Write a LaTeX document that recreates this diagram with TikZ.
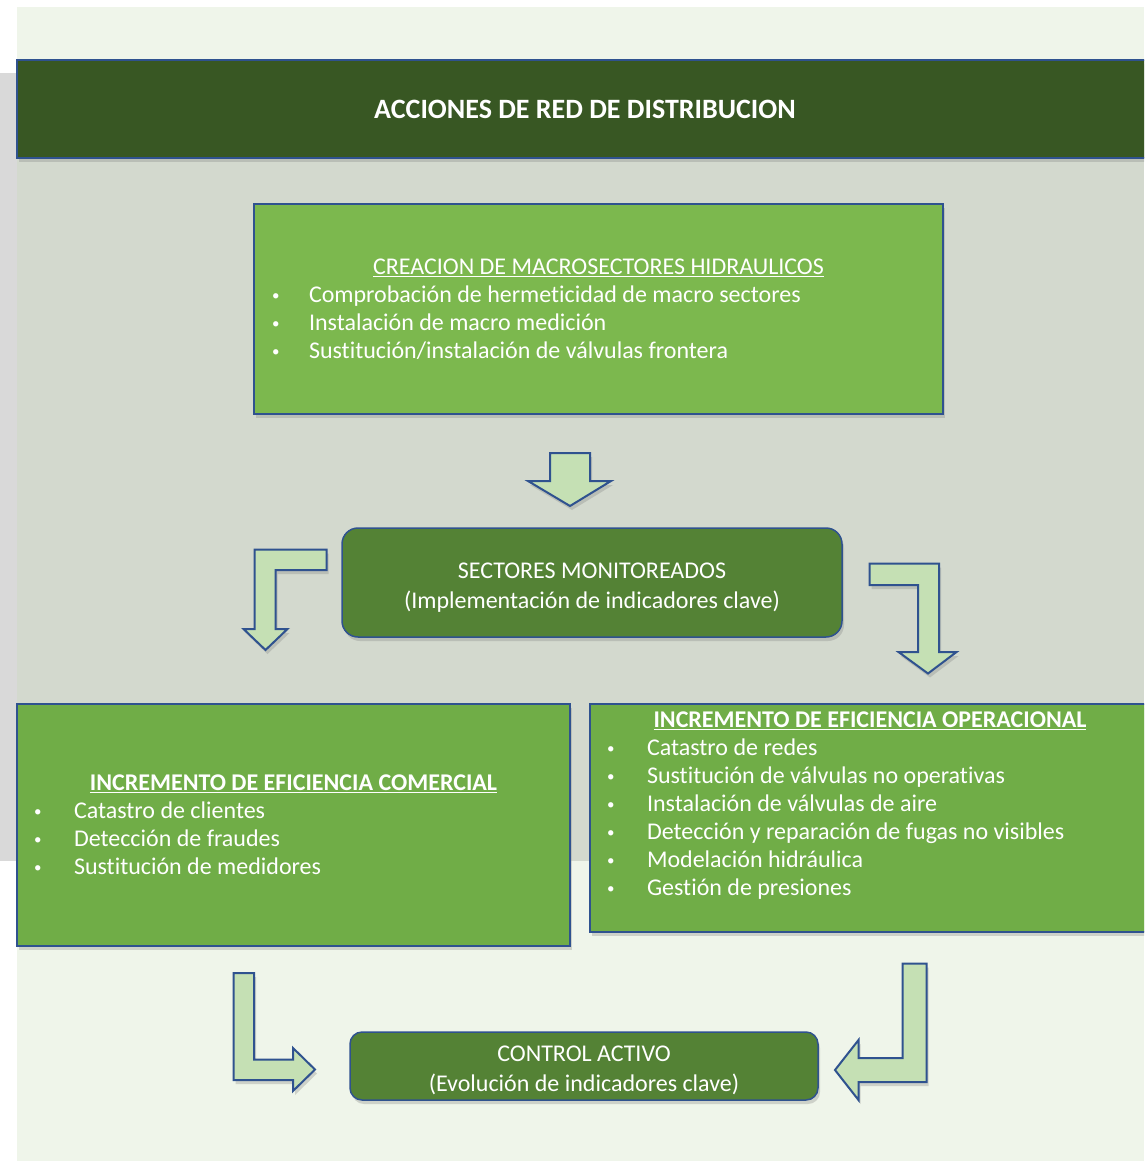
\documentclass[tikz,border=0pt]{standalone}
\usepackage{fontspec}
\setmainfont{Carlito}[Ligatures=NoCommon]
\definecolor{bannergreen}{RGB}{56, 87, 35}
\definecolor{borderblue}{RGB}{47, 82, 143}
\definecolor{boxgreen}{RGB}{112, 173, 71}
\definecolor{lightgreen}{RGB}{124, 184, 78}
\definecolor{deepgreen}{RGB}{84, 130, 53}
\definecolor{arrowgreen}{RGB}{197, 224, 180}
\definecolor{paleback}{RGB}{239, 245, 234}
\definecolor{greyback}{RGB}{217, 217, 217}
\definecolor{sageback}{RGB}{211, 217, 206}
\usetikzlibrary{shapes, arrows.meta, positioning, calc, shadows}

% bullet line of fixed width
\newcommand{\bitem}[3]{\makebox[#1][l]{\makebox[#2][l]{\hspace*{1pt}\raisebox{2pt}{\fontsize{15}{15}\selectfont\textbullet}}#3}}

\begin{document}
\begin{tikzpicture}[x=1pt, y=-1pt,
  softshadow/.style={drop shadow={shadow xshift=2pt, shadow yshift=-4pt, opacity=0.3}},
  greenbox/.style={draw=borderblue, line width=1.5pt, fill=boxgreen, text=white, align=center,
    inner sep=0pt, font=\fontsize{24}{28}\selectfont, softshadow},
  roundbox/.style={greenbox, fill=deepgreen, rounded corners=16pt},
  blockarrow/.style={draw=borderblue, line width=2pt, fill=arrowgreen, line join=miter, softshadow}]
  \useasboundingbox (0,0) rectangle (1144,1161);
  \clip (0,0) rectangle (1144,1161);
  % background
  \fill[white] (0,0) rectangle (1144,1161);
  \fill[paleback] (17,7) rectangle (1144,1161);
  \fill[greyback] (0,73) rectangle (17,861);
  \fill[sageback] (17,73) rectangle (1144,861);

  \node[greenbox, fill=bannergreen, minimum width=1136pt, minimum height=98pt,
    font=\fontsize{28}{32}\selectfont\bfseries] (banner) at (585,109) {ACCIONES DE RED DE DISTRIBUCION};

  \node[greenbox, fill=lightgreen, minimum width=689pt, minimum height=210pt] (macro) at (598.5,309) {
    \underline{CREACION DE MACROSECTORES HIDRAULICOS}\\
    \bitem{655pt}{38pt}{Comprobación de hermeticidad de macro sectores}\\
    \bitem{655pt}{38pt}{Instalación de macro medición}\\
    \bitem{655pt}{38pt}{Sustitución/instalación de válvulas frontera}
  };

  \node[roundbox, minimum width=500pt, minimum height=109pt] (sectores) at (592,582.5)
    {\rule{0pt}{25pt}SECTORES MONITOREADOS\\[2pt](Implementación de indicadores clave)};

  \node[greenbox, minimum width=553pt, minimum height=242pt] (comercial) at (293.5,825) {
    \textbf{\underline{INCREMENTO DE EFICIENCIA COMERCIAL}}\\
    \bitem{521pt}{41pt}{Catastro de clientes}\\
    \bitem{521pt}{41pt}{Detección de fraudes}\\
    \bitem{521pt}{41pt}{Sustitución de medidores}
  };

  \node[greenbox, minimum width=560pt, minimum height=228pt] (operacional) at (870,818) {
    \textbf{\underline{INCREMENTO DE EFICIENCIA OPERACIONAL}}\\
    \bitem{528pt}{41pt}{Catastro de redes}\\
    \bitem{528pt}{41pt}{Sustitución de válvulas no operativas}\\
    \bitem{528pt}{41pt}{Instalación de válvulas de aire}\\
    \bitem{528pt}{41pt}{Detección y reparación de fugas no visibles}\\
    \bitem{528pt}{41pt}{Modelación hidráulica}\\
    \bitem{528pt}{41pt}{Gestión de presiones}\\
    \mbox{}
  };

  \node[roundbox, rounded corners=12pt, minimum width=468pt, minimum height=68pt] (control) at (584,1066)
    {\rule{0pt}{25pt}CONTROL ACTIVO\\[2pt](Evolución de indicadores clave)};

  % block arrows
  \draw[blockarrow] (550,453) -- (590,453) -- (590,481) -- (611,481) -- (570,506)
    -- (528,481) -- (550,481) -- cycle;
  \draw[blockarrow] (326.5,549.5) -- (254.5,549.5) -- (254.5,629) -- (243.5,629) -- (265.5,650)
    -- (287.5,629) -- (275.5,629) -- (275.5,570) -- (326.5,570) -- cycle;
  \draw[blockarrow] (869.5,563.5) -- (939,563.5) -- (939,652) -- (956.5,652) -- (928,673.5)
    -- (898.5,652) -- (918,652) -- (918,585) -- (869.5,585) -- cycle;
  \draw[blockarrow] (233.5,973) -- (254,973) -- (254,1059.5) -- (293,1059.5) -- (293,1048)
    -- (315,1069.5) -- (293,1091) -- (293,1080) -- (233.5,1080) -- cycle;
  \draw[blockarrow] (926.5,963.5) -- (902.5,963.5) -- (902.5,1058) -- (858.5,1058) -- (858.5,1040)
    -- (835,1070) -- (858.5,1100) -- (858.5,1082) -- (926.5,1082) -- cycle;
\end{tikzpicture}
\end{document}
